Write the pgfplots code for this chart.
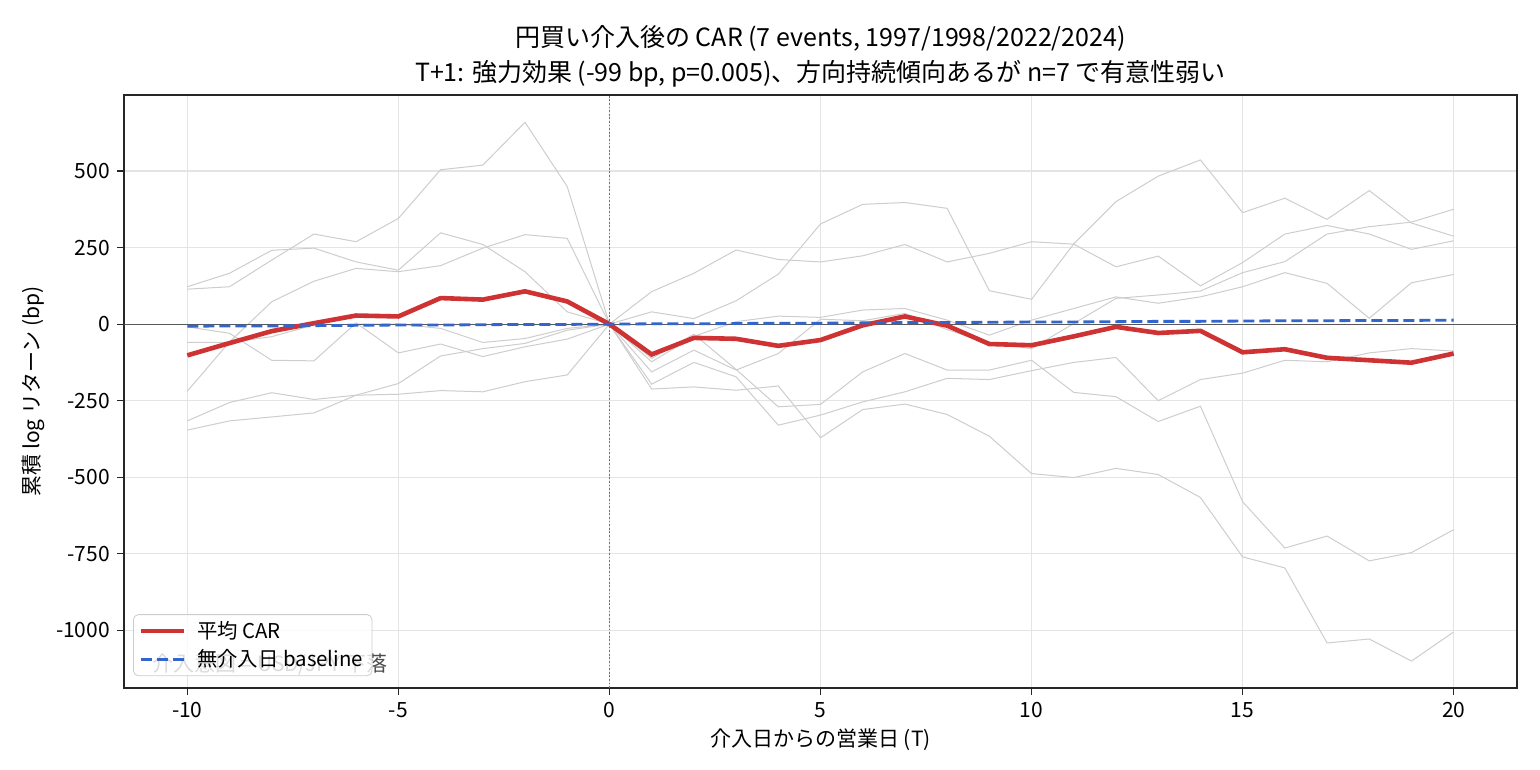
\documentclass[border=0pt]{standalone}
\usepackage{fontspec}
\setmainfont{Noto Sans CJK JP}
\usepackage{pgfplots}
\pgfplotsset{compat=1.18}
\usepackage{pgfplotstable}
\usetikzlibrary{calc}

\definecolor{carred}{RGB}{206,50,50}
\definecolor{baseblue}{RGB}{51,102,204}
\definecolor{evgray}{RGB}{205,205,205}
\definecolor{gridgray}{RGB}{228,228,228}

% cumulative log returns (bp) around each intervention day, mean CAR and no-intervention baseline
\pgfplotstableread{
T    ev1   ev2   ev3   ev4   ev5   ev6   ev7    mean  base
-10  114   122  -219    -9   -60  -316  -346  -102   -7
-9   122   166   -58   -30   -60  -256  -316   -62   -6
-8   209   241    73  -118   -41  -224  -303   -23   -6
-7   294   248   140  -120    -3  -246  -290     3   -5
-6   269   203   182     4     0  -232  -232    28   -4
-5   345   176   171   -94     0  -229  -194    25   -3
-4   504   298   191   -65   -14  -217  -104    85   -3
-3   519   260   248  -106   -60  -221   -80    80   -2
-2   659   171   292   -74   -47  -188   -63   107   -1
-1   449    40   280   -49   -14  -166   -20    74   -1
0      0     0     0     0     0     0     0     0    0
1     40   106  -156  -123  -196  -112  -212   -99    1
2     18   166   -85   -40  -125   -33  -205   -45    1
3     76   242  -150     8  -172  -148  -216   -48    2
4    163   211   -96    26  -330  -270  -202   -71    3
5    327   203    16    22  -297  -262  -371   -52    3
6    391   223    11    46  -254  -156  -279    -4    4
7    397   260    35    51  -221   -96  -261    25    5
8    378   203   -18    13  -177  -150  -295    -5    5
9    109   231   -63   -36  -181  -150  -366   -65    6
10    81   269   -80    13  -152  -118  -488   -69    7
11   262   261     2    51  -125  -223  -501   -40    7
12   400   187    84    89  -109  -237  -471    -9    8
13   483   222    95    68  -250  -318  -491   -29    9
14   536   125   108    89  -181  -268  -566   -22    9
15   364   201   168   122  -160  -580  -760   -92   10
16   411   294   204   168  -118  -731  -796   -82   11
17   342   322   294   133  -123  -692 -1041  -110   11
18   436   294   318    19   -94  -773 -1028  -118   12
19   330   244   333   135   -80  -746 -1100  -126   12
20   287   272   375   162   -88  -671 -1005   -96   13
}\cardata

\begin{document}
\begin{tikzpicture}[font=\fontsize{10.5}{12.6}\selectfont]
\begin{axis}[
  name=ax,
  scale only axis,
  width=696.5pt, height=296.5pt,
  xmin=-11.5, xmax=21.5,
  ymin=-1188, ymax=748,
  xtick={-10,-5,...,20},
  ytick={-1000,-750,-500,-250,0,250,500},
  tick pos=left,
  grid=major,
  major grid style={gridgray, line width=0.6pt},
  tick align=outside,
  major tick length=3.5pt,
  tick style={black!85, line width=0.6pt},
  axis line style={black!85, line width=0.8pt},
  /pgf/number format/assume math mode=true,
  /pgf/number format/set thousands separator={},
  ticklabel style={font=\fontsize{10.5}{12}\selectfont},
  legend cell align=left,
  legend image code/.code={\draw[#1] (0pt,0pt) -- (21.5pt,0pt); \path (25pt,0pt);},
  legend style={at={(0.0065,0.02)}, anchor=south west,
    fill=white, fill opacity=0.8, draw opacity=1, text opacity=1,
    draw=black!20, rounded corners=2.5pt,
    font=\fontsize{10.2}{12}\selectfont,
    inner xsep=2.5pt, inner ysep=1.2pt, row sep=0pt},
]
% individual events
\foreach \ev in {ev1,ev2,ev3,ev4,ev5,ev6,ev7}{
  \addplot[evgray, line width=0.5pt, forget plot] table[x=T, y=\ev] {\cardata};
}
% reference lines
\addplot[black!65, line width=0.6pt, forget plot] coordinates {(-11.5,0) (21.5,0)};
\addplot[black!55, line width=0.7pt, dash pattern=on 0.9pt off 0.9pt, forget plot] coordinates {(0,-1188) (0,748)};
% mean CAR and baseline
\addplot[carred, line width=2.3pt] table[x=T, y=mean] {\cardata};
\addlegendentry{平均 CAR}
\addplot[baseblue, line width=1.4pt, dash pattern=on 5.5pt off 2.5pt] table[x=T, y=base] {\cardata};
\addlegendentry{無介入日 baseline}
\node[anchor=south west, inner sep=0pt, text=black!70] at (rel axis cs:0.02,0.02) {介入意図 = USD/JPY 下落};
\end{axis}
\node[font=\fontsize{12.5}{15}\selectfont] at ($(ax.north)+(0,28.5pt)$) {円買い介入後の CAR (7 events, 1997/1998/2022/2024)};
\node[font=\fontsize{12.5}{15}\selectfont] at ($(ax.north)+(0,10.5pt)$) {T+1: 強力効果 (-99 bp, p=0.005)、方向持続傾向あるが n=7 で有意性弱い};
\node at ($(ax.south)+(0,-26pt)$) {介入日からの営業日 (T)};
\node[rotate=90] at ($(ax.west)+(-45.5pt,0)$) {累積 log リターン (bp)};
\pgfresetboundingbox
\path[use as bounding box] ($(ax.south west)+(-62pt,-41pt)$) rectangle ($(ax.north east)+(11.5pt,47.5pt)$);
\end{tikzpicture}
\end{document}
